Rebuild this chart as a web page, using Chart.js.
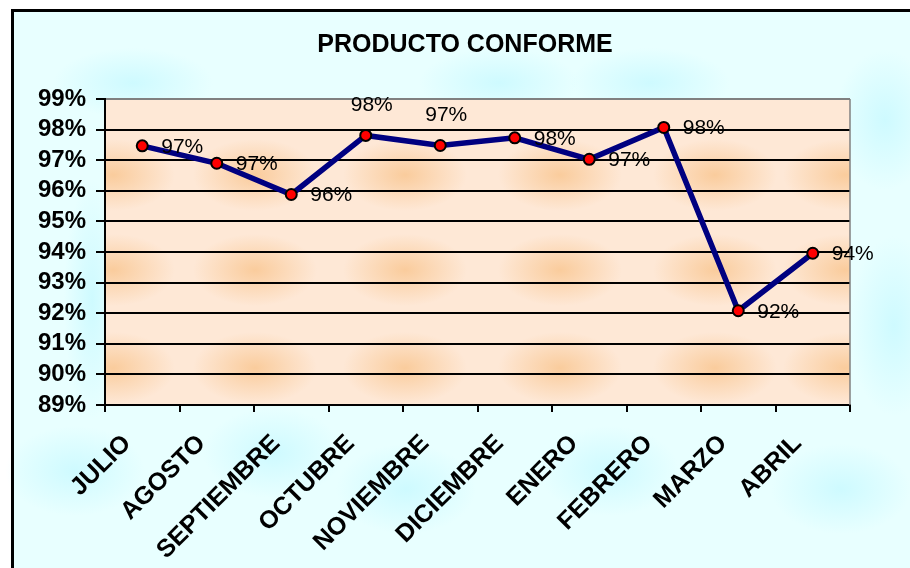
<!DOCTYPE html>
<html>
<head>
  <title>Producto conforme</title>
  <script src="https://cdn.jsdelivr.net/npm/chart.js"></script>
  <style>
    html, body { margin: 0; padding: 0; background: #fff; overflow: hidden; }
    canvas { display: block; }
  </style>
</head>
<body>
  <canvas id="conformeChart" width="910" height="568"></canvas>
  <script>
    // Meses del periodo
    const meses = ['JULIO', 'AGOSTO', 'SEPTIEMBRE', 'OCTUBRE', 'NOVIEMBRE',
                   'DICIEMBRE', 'ENERO', 'FEBRERO', 'MARZO', 'ABRIL'];
    // % de producto conforme por mes
    const conforme = [97.47, 96.90, 95.88, 97.81, 97.48, 97.73, 97.03, 98.07, 92.08, 93.96];
    // Rango del eje Y (%)
    const ejeMin = 89;
    const ejeMax = 99;
    const titulo = 'PRODUCTO CONFORME';
    // Donde va la etiqueta de cada punto
    const posEtiqueta = ['right', 'right', 'right', 'top', 'top', 'right', 'right', 'right', 'right', 'right'];

    const FUENTE = 'Arial, "Liberation Sans", sans-serif';

    // mancha difusa elíptica
    function mancha(ctx, x, y, rx, ry, rgb, alfa) {
      ctx.save();
      ctx.translate(x, y);
      ctx.scale(1, ry / rx);
      const g = ctx.createRadialGradient(0, 0, 0, 0, 0, rx);
      g.addColorStop(0, 'rgba(' + rgb + ',' + alfa + ')');
      g.addColorStop(0.45, 'rgba(' + rgb + ',' + (alfa * 0.55) + ')');
      g.addColorStop(1, 'rgba(' + rgb + ',0)');
      ctx.fillStyle = g;
      ctx.fillRect(-rx, -rx, 2 * rx, 2 * rx);
      ctx.restore();
    }

    // Fondo del gráfico: marco celeste, título y área de trazado color durazno
    const fondo = {
      id: 'fondo',
      beforeDraw(chart) {
        const ctx = chart.ctx;
        const a = chart.chartArea;
        ctx.save();
        ctx.fillStyle = '#fff';
        ctx.fillRect(0, 0, chart.width, chart.height);
        ctx.fillStyle = '#E8FFFF';
        ctx.fillRect(12, 10, chart.width, chart.height);

        const cian = [[133, 83, 80, 35], [499, 83, 80, 35], [650, 83, 80, 35], [885, 120, 50, 70],
                      [894, 326, 45, 90], [92, 300, 28, 120], [75, 471, 70, 45], [273, 453, 70, 45],
                      [406, 489, 70, 45], [609, 471, 70, 45], [841, 489, 70, 45]];
        cian.forEach(m => mancha(ctx, m[0], m[1], m[2], m[3], '195,248,255', 0.7));

        ctx.strokeStyle = '#000';
        ctx.lineWidth = 3;
        ctx.strokeRect(12.5, 10.5, chart.width + 20, chart.height + 20);

        ctx.fillStyle = '#000';
        ctx.font = 'bold 25px ' + FUENTE;
        ctx.textAlign = 'center';
        ctx.textBaseline = 'middle';
        ctx.fillText(titulo, 465, 45);

        ctx.beginPath();
        ctx.rect(a.left, a.top, a.right - a.left, a.bottom - a.top);
        ctx.clip();
        ctx.fillStyle = '#FEE8D6';
        ctx.fillRect(a.left, a.top, a.right - a.left, a.bottom - a.top);
        const xs = [113, 255, 405, 560, 715, 845];
        const ys = [175, 270, 368];
        ys.forEach(y => xs.forEach(x => mancha(ctx, x, y, 62, 36, '248,192,132', 0.7)));
        ctx.restore();
      },
      beforeDatasetsDraw(chart) {
        const ctx = chart.ctx;
        const a = chart.chartArea;
        ctx.save();
        ctx.strokeStyle = '#808080';
        ctx.lineWidth = 1.5;
        ctx.beginPath();
        ctx.moveTo(a.right, a.top);
        ctx.lineTo(a.right, a.bottom);
        ctx.stroke();
        ctx.restore();
      }
    };

    // Etiquetas de valor junto a cada punto
    const etiquetas = {
      id: 'etiquetas',
      afterDatasetsDraw(chart) {
        const ctx = chart.ctx;
        const meta = chart.getDatasetMeta(0);
        ctx.save();
        ctx.font = '21px ' + FUENTE;
        ctx.fillStyle = '#000';
        ctx.textBaseline = 'middle';
        meta.data.forEach((p, i) => {
          const txt = Math.round(conforme[i]) + '%';
          if (posEtiqueta[i] === 'top') {
            ctx.textAlign = 'center';
            ctx.fillText(txt, p.x + 6, p.y - 30);
          } else {
            ctx.textAlign = 'left';
            ctx.fillText(txt, p.x + 19, p.y + 1);
          }
        });
        ctx.restore();
      }
    };

    new Chart(document.getElementById('conformeChart'), {
      type: 'line',
      data: {
        labels: meses,
        datasets: [{
          data: conforme,
          borderColor: '#000080',
          borderWidth: 5.5,
          pointRadius: 5.5,
          pointBackgroundColor: '#FF0000',
          pointBorderColor: '#000',
          pointBorderWidth: 2,
          tension: 0
        }]
      },
      options: {
        responsive: false,
        animation: false,
        devicePixelRatio: 1,
        layout: { padding: { left: 0, right: 60, top: 99, bottom: 0 } },
        plugins: {
          legend: { display: false },
          tooltip: { enabled: false },
          title: { display: false }
        },
        scales: {
          x: {
            offset: true,
            grid: { offset: true, drawOnChartArea: false, drawTicks: true, tickLength: 7, color: '#000', lineWidth: 2 },
            border: { color: '#000', width: 2 },
            ticks: {
              autoSkip: false,
              maxRotation: 45,
              minRotation: 45,
              padding: 17,
              labelOffset: -15,
              color: '#000',
              font: { family: FUENTE, size: 25, weight: 'bold' }
            },
            afterFit(s) { s.height = 163; }
          },
          y: {
            min: ejeMin,
            max: ejeMax,
            ticks: {
              autoSkip: false,
              stepSize: 1,
              callback: v => v + '%',
              padding: 10,
              color: '#000',
              font: { family: FUENTE, size: 24, weight: 'bold' }
            },
            grid: {
              color: c => (c.tick && c.tick.value === ejeMax) ? '#808080' : '#000',
              lineWidth: 2,
              tickLength: 9,
              tickColor: '#000'
            },
            border: { color: '#000', width: 2 },
            afterFit(s) { s.width = 105; }
          }
        }
      },
      plugins: [fondo, etiquetas]
    });
  </script>
</body>
</html>
